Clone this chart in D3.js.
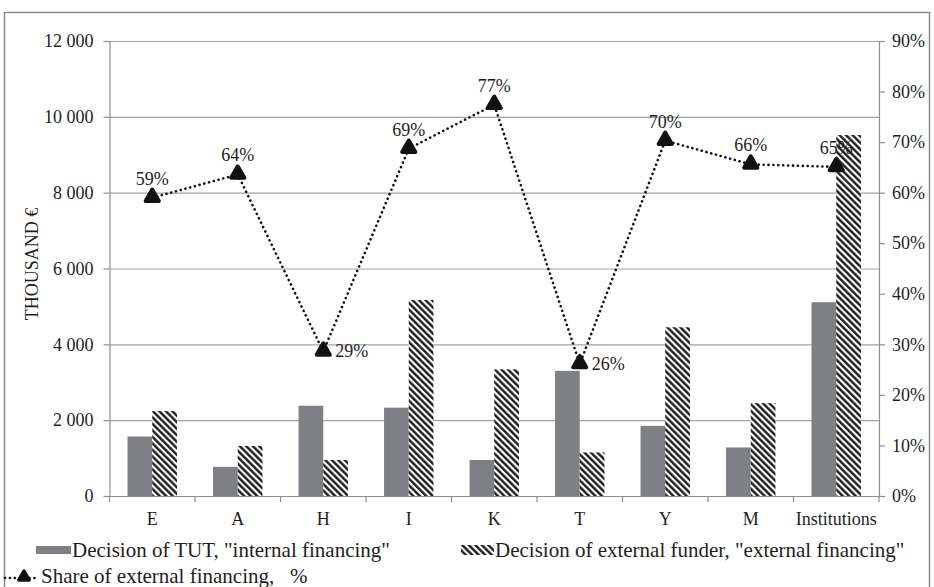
<!DOCTYPE html>
<html>
<head>
<meta charset="utf-8">
<script src="https://cdn.jsdelivr.net/npm/d3@7"></script>
<style>
  html, body { margin: 0; padding: 0; background: #fff; }
  svg { display: block; }
  svg text { font-family: "Liberation Serif", "Times New Roman", serif; }
</style>
</head>
<body>
<svg id="chart" width="934" height="587"></svg>
<script>
// ---- data ----
const categories = ["E", "A", "H", "I", "K", "T", "Y", "M", "Institutions"];
const internalFinancing = [1570, 770, 2380, 2330, 950, 3300, 1850, 1280, 5110];
const externalFinancing = [2240, 1320, 950, 5170, 3340, 1150, 4450, 2450, 9520];
const shareExternal = [0.59, 0.636, 0.286, 0.687, 0.774, 0.261, 0.703, 0.656, 0.651];
const leftTicks = [0, 2000, 4000, 6000, 8000, 10000, 12000];
const rightTicks = [0, 0.1, 0.2, 0.3, 0.4, 0.5, 0.6, 0.7, 0.8, 0.9];
const seriesNames = ["Decision of TUT, \"internal financing\"", "Decision of external funder, \"external financing\"", "Share of external financing,\u00a0\u00a0\u00a0%"];
const yTitle = "THOUSAND €";

// ---- layout ----
const svg = d3.select("#chart");
const L = 109.5, R = 879, T = 41, B = 496;
const gridColor = "#a3a3a3", axisColor = "#8f8f8f", textColor = "#1e1e1e", barGray = "#7f8084";
const serif = "'Liberation Serif', 'Times New Roman', serif";

// frame
svg.append("rect").attr("x", 4.5).attr("y", 12.5).attr("width", 925).attr("height", 640)
  .attr("fill", "none").attr("stroke", "#8a8a8a").attr("stroke-width", 1.5);

// hatch pattern
const defs = svg.append("defs");
const pat = defs.append("pattern").attr("id", "hatch").attr("patternUnits", "userSpaceOnUse")
  .attr("width", 4.6).attr("height", 10).attr("patternTransform", "rotate(-45)");
pat.append("rect").attr("width", 4.6).attr("height", 10).attr("fill", "#fff");
pat.append("line").attr("x1", 1.3).attr("x2", 1.3).attr("y1", 0).attr("y2", 10)
  .attr("stroke", "#111").attr("stroke-width", 2.3);

const x = d3.scaleBand().domain(categories).range([L, R]).padding(0);
const xSub = d3.scaleBand().domain(["int", "ext"]).range([0, x.bandwidth()]).paddingInner(0).paddingOuter(0.73);
const y = d3.scaleLinear().domain([0, 12000]).range([B, T]);
const yR = d3.scaleLinear().domain([0, 0.9]).range([B, T]);

const fmtThousands = v => d3.format(",")(v).replace(/,/g, " ");

// gridlines
svg.append("g").selectAll("line").data(leftTicks.filter(v => v > 0)).join("line")
  .attr("x1", L).attr("x2", R).attr("y1", d => y(d) + 0.5).attr("y2", d => y(d) + 0.5)
  .attr("stroke", gridColor).attr("stroke-width", 1.2);

// left axis
const gL = svg.append("g").attr("transform", `translate(${L},0)`)
  .call(d3.axisLeft(y).tickValues(leftTicks).tickFormat(fmtThousands).tickSize(6).tickPadding(10));
// right axis
const gR = svg.append("g").attr("transform", `translate(${R},0)`)
  .call(d3.axisRight(yR).tickValues(rightTicks).tickFormat(d3.format(".0%")).tickSize(6).tickPadding(7));
[gL, gR].forEach(g => {
  g.attr("font-family", serif);
  g.select(".domain").attr("stroke", axisColor).attr("stroke-width", 1.2);
  g.selectAll(".tick line").attr("stroke", axisColor).attr("stroke-width", 1.2);
  g.selectAll(".tick text").attr("fill", textColor).attr("font-size", 18);
});

// bottom axis (ticks at band boundaries)
const gB = svg.append("g").attr("font-family", serif);
gB.append("line").attr("x1", L).attr("x2", R).attr("y1", B + 0.5).attr("y2", B + 0.5)
  .attr("stroke", axisColor).attr("stroke-width", 1.2);
gB.selectAll("line.tk").data(categories.map(c => x(c)).concat([x.range()[1]])).join("line")
  .attr("class", "tk").attr("x1", d => d).attr("x2", d => d)
  .attr("y1", B).attr("y2", B + 6).attr("stroke", axisColor).attr("stroke-width", 1.2);
gB.selectAll("text").data(categories).join("text")
  .attr("x", d => x(d) + x.bandwidth() / 2).attr("y", 525)
  .attr("text-anchor", "middle").attr("font-size", 18).attr("fill", textColor).text(d => d);

// y title
svg.append("text").attr("transform", "translate(38,264) rotate(-90)")
  .attr("text-anchor", "middle").attr("font-size", 18).attr("fill", textColor).text(yTitle);

// bars
const gBars = svg.append("g");
gBars.selectAll("rect.int").data(categories).join("rect").attr("class", "int")
  .attr("x", (d) => x(d) + xSub("int")).attr("width", xSub.bandwidth())
  .attr("y", (d, i) => y(internalFinancing[i])).attr("height", (d, i) => B - y(internalFinancing[i]))
  .attr("fill", barGray);
gBars.selectAll("rect.ext").data(categories).join("rect").attr("class", "ext")
  .attr("x", (d) => x(d) + xSub("ext")).attr("width", xSub.bandwidth())
  .attr("y", (d, i) => y(externalFinancing[i])).attr("height", (d, i) => B - y(externalFinancing[i]))
  .attr("fill", "url(#hatch)");

// share line
const cx = d => x(d) + x.bandwidth() / 2;
const line = d3.line().x((d, i) => cx(categories[i])).y(d => yR(d));
svg.append("path").datum(shareExternal).attr("d", line).attr("fill", "none")
  .attr("stroke", "#111").attr("stroke-width", 2.6).attr("stroke-dasharray", "0.1,4.8")
  .attr("stroke-linecap", "round");

const marker = d3.symbol().type(d3.symbolTriangle).size(75);
svg.append("g").selectAll("path").data(shareExternal).join("path")
  .attr("d", marker).attr("transform", (d, i) => `translate(${cx(categories[i])},${yR(d) - 0.5})`)
  .attr("fill", "#111").attr("stroke", "#111").attr("stroke-width", 4).attr("stroke-linejoin", "round");

const rightLabeled = new Set(["H", "T"]);
svg.append("g").attr("font-family", serif).selectAll("text").data(shareExternal).join("text")
  .attr("x", (d, i) => rightLabeled.has(categories[i]) ? cx(categories[i]) + 12 : cx(categories[i]))
  .attr("y", (d, i) => rightLabeled.has(categories[i]) ? yR(d) + 6 : yR(d) - 13)
  .attr("text-anchor", (d, i) => rightLabeled.has(categories[i]) ? "start" : "middle")
  .attr("font-size", 18).attr("fill", textColor).text(d => d3.format(".0%")(d));

// legend
const lg = svg.append("g").attr("font-size", 21).attr("fill", textColor).attr("font-family", serif);
lg.append("rect").attr("x", 36).attr("y", 546).attr("width", 35).attr("height", 8).attr("fill", barGray);
lg.append("text").attr("x", 72).attr("y", 557).text(seriesNames[0]);
lg.append("rect").attr("x", 461).attr("y", 545).attr("width", 33).attr("height", 10).attr("fill", "url(#hatch)");
lg.append("text").attr("x", 495).attr("y", 557).text(seriesNames[1]);
lg.append("line").attr("x1", 5).attr("x2", 39).attr("y1", 578).attr("y2", 578)
  .attr("stroke", "#111").attr("stroke-width", 2.6).attr("stroke-dasharray", "0.1,4.8").attr("stroke-linecap", "round");
lg.append("path").attr("d", d3.symbol().type(d3.symbolTriangle).size(45)).attr("transform", "translate(24,577)")
  .attr("fill", "#111").attr("stroke", "#111").attr("stroke-width", 3.5).attr("stroke-linejoin", "round");
lg.append("text").attr("x", 41).attr("y", 583).text(seriesNames[2]);
</script>
</body>
</html>
